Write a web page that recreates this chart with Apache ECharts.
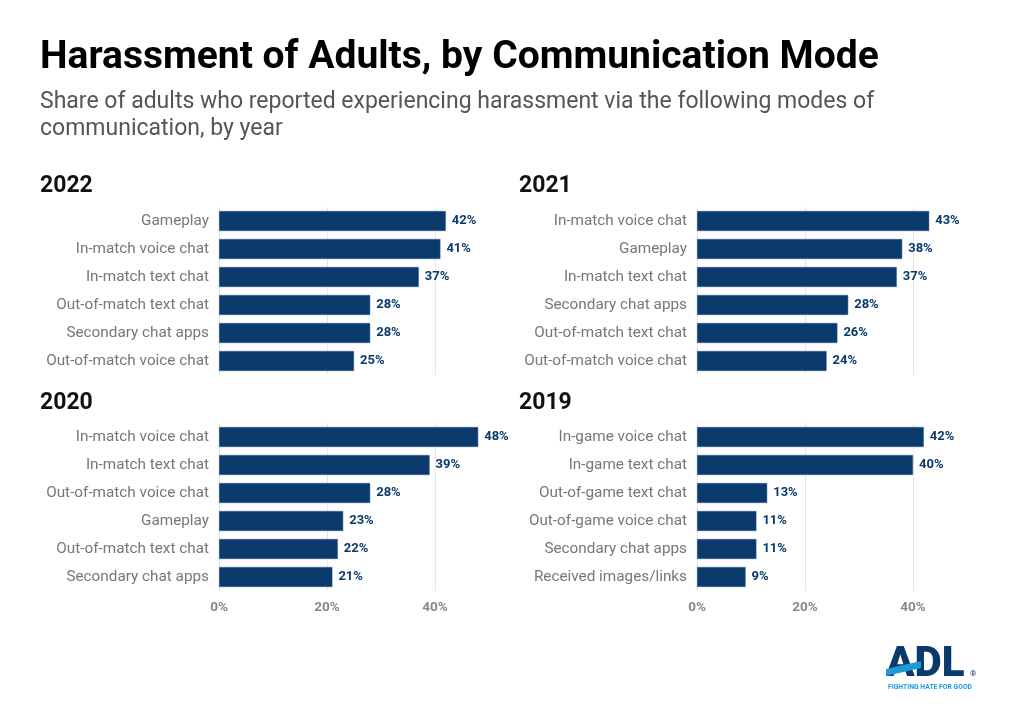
<!DOCTYPE html>
<html>
<head>
<meta charset="utf-8">
<script src="https://cdn.jsdelivr.net/npm/echarts@6/dist/echarts.min.js"></script>
<style>
  html, body { margin: 0; padding: 0; background: #fff; }
  #chart { width: 1020px; height: 722px; }
</style>
</head>
<body>
<div id="chart"></div>
<script>
var years = ['2022', '2021', '2020', '2019'];

var cats2022 = ['Gameplay', 'In-match voice chat', 'In-match text chat', 'Out-of-match text chat', 'Secondary chat apps', 'Out-of-match voice chat'];
var vals2022 = [42, 41, 37, 28, 28, 25];

var cats2021 = ['In-match voice chat', 'Gameplay', 'In-match text chat', 'Secondary chat apps', 'Out-of-match text chat', 'Out-of-match voice chat'];
var vals2021 = [43, 38, 37, 28, 26, 24];

var cats2020 = ['In-match voice chat', 'In-match text chat', 'Out-of-match voice chat', 'Gameplay', 'Out-of-match text chat', 'Secondary chat apps'];
var vals2020 = [48, 39, 28, 23, 22, 21];

var cats2019 = ['In-game voice chat', 'In-game text chat', 'Out-of-game text chat', 'Out-of-game voice chat', 'Secondary chat apps', 'Received images/links'];
var vals2019 = [42, 40, 13, 11, 11, 9];

var tickLabels = ['0%', '20%', '40%'];

var cats = [cats2022, cats2021, cats2020, cats2019];
var vals = [vals2022, vals2021, vals2020, vals2019];

var navy = '#0a3a6c';
var sky = '#1e9ad6';
var chart = echarts.init(document.getElementById('chart'));

// panel layout: left column 0% at x=219, right at x=697; 40% is 216px further
var lefts = [219, 697, 219, 697];
var tops = [207, 207, 423, 423];
var yearPos = [[35, 170], [514, 170], [35, 387], [514, 387]];

var grids = [], xAxes = [], yAxes = [], series = [], titles = [];

titles.push({
    text: 'Harassment of Adults, by Communication Mode',
    left: 35, top: 34,
    textStyle: { fontFamily: 'Roboto', fontWeight: 'bold', fontSize: 39, color: '#000' }
});
titles.push({
    text: 'Share of adults who reported experiencing harassment via the following modes of\ncommunication, by year',
    left: 35, top: 84,
    textStyle: { fontFamily: 'Roboto', fontWeight: 'normal', fontSize: 23, lineHeight: 27, color: '#555' }
});

years.forEach(function (y, i) {
    titles.push({
        text: y, left: yearPos[i][0], top: yearPos[i][1],
        textStyle: { fontFamily: 'Roboto', fontWeight: 'bold', fontSize: 23, color: '#111' }
    });
    grids.push({ left: lefts[i], top: tops[i], width: 216, height: 168 });
    xAxes.push({
        gridIndex: i, type: 'value', min: 0, max: 40, interval: 20,
        axisLine: { show: false }, axisTick: { show: false },
        splitLine: { lineStyle: { color: '#e6e6e6', width: 1 } },
        axisLabel: {
            show: i >= 2, margin: 10,
            fontFamily: 'Roboto', fontWeight: 'bold', fontSize: 13.5, color: '#888',
            formatter: function (v) { return tickLabels[v / 20]; }
        }
    });
    yAxes.push({
        gridIndex: i, type: 'category', inverse: true, data: cats[i],
        axisLine: { show: false }, axisTick: { show: false },
        axisLabel: { margin: 10, fontFamily: 'Roboto', fontSize: 15.3, color: '#777' }
    });
    series.push({
        type: 'bar', xAxisIndex: i, yAxisIndex: i, data: vals[i],
        barWidth: 20, clip: false,
        itemStyle: { color: navy, borderColor: '#3d6494', borderWidth: 0.5 },
        label: {
            show: true, position: 'right', distance: 6,
            fontFamily: 'Roboto', fontWeight: 'bold', fontSize: 13, color: navy,
            formatter: '{c}%'
        }
    });
});

chart.setOption({
    backgroundColor: '#fff',
    animation: false,
    title: titles,
    grid: grids,
    xAxis: xAxes,
    yAxis: yAxes,
    series: series,
    graphic: [
        {
            type: 'text', left: 886, top: 644,
            style: { text: 'ADL', fontFamily: 'Roboto', fontWeight: 900, fontSize: 42, fill: navy }
        },
        {
            type: 'polygon',
            shape: { points: [[886, 669], [921, 661], [921, 668], [886, 676]] },
            style: { fill: sky }
        },
        {
            type: 'text', left: 970, top: 670,
            style: { text: '®', fontFamily: 'Roboto', fontSize: 8, fill: navy }
        },
        {
            type: 'text', left: 888, top: 684,
            style: { text: 'FIGHTING HATE FOR GOOD', fontFamily: 'Roboto', fontWeight: 'bold', fontSize: 6.8, fill: sky }
        }
    ]
});
</script>
</body>
</html>
